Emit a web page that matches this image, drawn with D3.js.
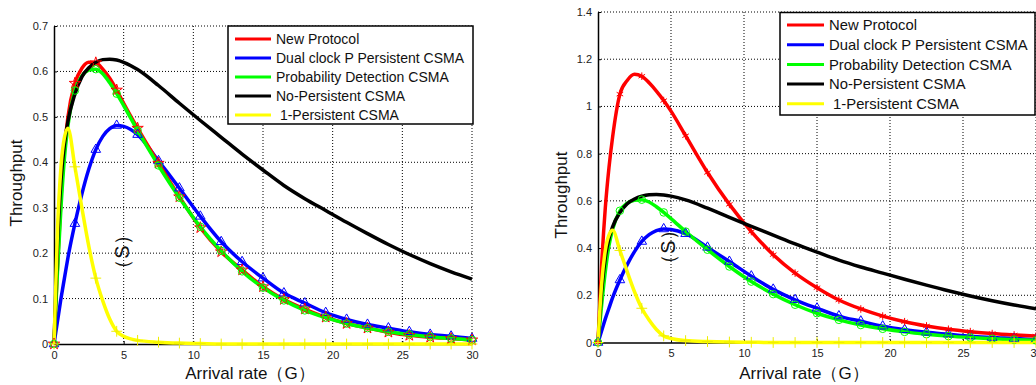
<!DOCTYPE html>
<html>
<head>
<meta charset="utf-8">
<script src="https://cdn.jsdelivr.net/npm/d3@7"></script>
<style>
  body { margin: 0; background: #fff; }
  svg { display: block; font-family: "Liberation Sans", Arial, sans-serif; }
</style>
</head>
<body>
<svg id="chart"></svg>
<script>
var width = 1036;
var height = 385;

// arrival rate samples (G)
var arrivalRate = [0, 0.25, 0.5, 0.75, 1, 1.5, 2, 2.5, 3, 3.5, 4, 4.5, 5, 6, 7.5, 9, 10.5, 12, 13.5, 15, 16.5, 18, 19.5, 21, 22.5, 24, 25.5, 27, 28.5, 30];
var markerRate = [0, 1.5, 3, 4.5, 6, 7.5, 9, 10.5, 12, 13.5, 15, 16.5, 18, 19.5, 21, 22.5, 24, 25.5, 27, 28.5, 30];

var newProtocolLeft = [0, 0.17, 0.32, 0.43, 0.5, 0.574, 0.607, 0.62, 0.619, 0.605, 0.585, 0.559, 0.53, 0.475, 0.398, 0.324, 0.256, 0.203, 0.163, 0.126, 0.098, 0.077, 0.059, 0.045, 0.035, 0.026, 0.019, 0.015, 0.012, 0.009];
var newProtocolRight = [0, 0.33, 0.57, 0.74, 0.87, 1.052, 1.11, 1.136, 1.128, 1.1, 1.065, 1.025, 0.98, 0.876, 0.72, 0.585, 0.47, 0.372, 0.294, 0.232, 0.18, 0.142, 0.112, 0.088, 0.07, 0.056, 0.046, 0.038, 0.032, 0.027];
var dualClock = [0, 0.05, 0.1, 0.145, 0.19, 0.265, 0.33, 0.385, 0.428, 0.457, 0.474, 0.481, 0.479, 0.461, 0.403, 0.343, 0.281, 0.225, 0.181, 0.145, 0.112, 0.09, 0.069, 0.054, 0.043, 0.035, 0.027, 0.021, 0.017, 0.012];
var probDetection = [0, 0.16, 0.3, 0.41, 0.48, 0.558, 0.59, 0.603, 0.605, 0.595, 0.575, 0.551, 0.525, 0.47, 0.393, 0.322, 0.258, 0.205, 0.16, 0.124, 0.096, 0.074, 0.058, 0.045, 0.035, 0.027, 0.021, 0.016, 0.012, 0.009];
var noPersistent = [0, 0.22, 0.36, 0.44, 0.49, 0.55, 0.588, 0.608, 0.62, 0.626, 0.627, 0.625, 0.62, 0.604, 0.569, 0.53, 0.492, 0.455, 0.418, 0.383, 0.349, 0.32, 0.294, 0.268, 0.243, 0.219, 0.197, 0.177, 0.159, 0.143];
var onePersistent = [0, 0.25, 0.39, 0.455, 0.475, 0.39, 0.3, 0.215, 0.145, 0.095, 0.055, 0.028, 0.017, 0.008, 0.004, 0.002, 0.001, 0, 0, 0, 0, 0, 0, 0, 0, 0, 0, 0, 0, 0];

var legendNames = ["New Protocol", "Dual clock P Persistent CSMA", "Probability Detection CSMA", "No-Persistent CSMA", " 1-Persistent CSMA"];
var seriesColors = ["#ff0000", "#0000ff", "#00ff00", "#000000", "#ffff00"];
var xTicks = [0, 5, 10, 15, 20, 25, 30];
var yTicksLeft = [0, 0.1, 0.2, 0.3, 0.4, 0.5, 0.6, 0.7];
var yTicksRight = [0, 0.2, 0.4, 0.6, 0.8, 1, 1.2, 1.4];

var svg = d3.select("#chart")
            .attr("width", width)
            .attr("height", height);

function drawPanel(p) {
  var xScale = d3.scaleLinear().domain([0, 30]).range([p.left, p.right]);
  var yScale = d3.scaleLinear().domain([0, p.yMax]).range([p.bottom, p.top]);
  var g = svg.append("g");

  // dotted grid
  g.selectAll(".gx").data(xTicks.slice(1)).enter().append("line")
    .attr("x1", function(d) { return xScale(d); })
    .attr("x2", function(d) { return xScale(d); })
    .attr("y1", p.top).attr("y2", p.bottom)
    .attr("stroke", "#000").attr("stroke-width", 1).attr("stroke-dasharray", "1,2");
  g.selectAll(".gy").data(p.yTicks.slice(1)).enter().append("line")
    .attr("y1", function(d) { return yScale(d); })
    .attr("y2", function(d) { return yScale(d); })
    .attr("x1", p.left).attr("x2", p.right)
    .attr("stroke", "#000").attr("stroke-width", 1).attr("stroke-dasharray", "1,2");

  var xAxis = g.append("g")
    .attr("transform", "translate(0," + p.bottom + ")")
    .call(d3.axisBottom(xScale).tickValues(xTicks).tickSize(-3).tickPadding(7).tickSizeOuter(0));
  var yAxis = g.append("g")
    .attr("transform", "translate(" + p.left + ",0)")
    .call(d3.axisLeft(yScale).tickValues(p.yTicks).tickSize(-3).tickPadding(6).tickSizeOuter(0)
      .tickFormat(function(d) { return String(+d.toFixed(1)); }));
  [xAxis, yAxis].forEach(function(a) {
    a.selectAll("text").attr("font-size", 11).attr("fill", "#222")
      .attr("font-family", "Liberation Sans, Arial, sans-serif");
    a.select(".domain").attr("stroke-width", 1.5);
  });

  var series = [
    { values: p.newProtocol, color: seriesColors[0], symbol: p.redSymbol },
    { values: dualClock, color: seriesColors[1], symbol: d3.symbolTriangle },
    { values: probDetection, color: seriesColors[2], symbol: d3.symbolCircle },
    { values: noPersistent, color: seriesColors[3], symbol: null },
    { values: onePersistent, color: seriesColors[4], symbol: d3.symbolPlus }
  ];
  var drawOrder = [1, 0, 2, 3, 4];

  var line = d3.line()
    .x(function(d, i) { return xScale(arrivalRate[i]); })
    .y(function(d) { return yScale(d); })
    .curve(d3.curveMonotoneX);

  drawOrder.forEach(function(k) {
    g.append("path")
      .datum(series[k].values)
      .attr("d", line)
      .attr("fill", "none")
      .attr("stroke", series[k].color)
      .attr("stroke-width", 3.5)
      .attr("stroke-linejoin", "round");
  });

  drawOrder.forEach(function(k) {
    var s = series[k];
    if (!s.symbol) return;
    var pts = markerRate.map(function(r) {
      return { x: r, y: s.values[arrivalRate.indexOf(r)] };
    });
    g.selectAll(null).data(pts).enter().append("path")
      .attr("transform", function(d) { return "translate(" + xScale(d.x) + "," + yScale(d.y) + ")"; })
      .attr("d", d3.symbol().type(s.symbol).size(k === 2 ? 45 : 40))
      .attr("fill", "none")
      .attr("stroke", k === 4 ? "#eeee00" : s.color)
      .attr("stroke-width", 1);
  });

  // legend
  var lg = g.append("g");
  lg.append("rect")
    .attr("x", p.legend.x).attr("y", p.legend.y)
    .attr("width", p.legend.w).attr("height", p.legend.h)
    .attr("fill", "#fff").attr("stroke", "#000").attr("stroke-width", 1.5);
  legendNames.forEach(function(name, i) {
    var yy = p.legend.y + p.legend.first + i * p.legend.step;
    lg.append("line")
      .attr("x1", p.legend.x + 7).attr("x2", p.legend.x + 7 + p.legend.sample)
      .attr("y1", yy).attr("y2", yy)
      .attr("stroke", seriesColors[i]).attr("stroke-width", 3);
    lg.append("text")
      .attr("x", p.legend.x + 12 + p.legend.sample).attr("y", yy)
      .attr("dy", "0.35em")
      .attr("font-size", p.legend.font)
      .attr("fill", "#111")
      .style("white-space", "pre")
      .text(name);
  });

  svg.append("text")
    .attr("transform", "translate(" + p.yLabelX + "," + p.yLabelY + ") rotate(-90)")
    .attr("text-anchor", "middle")
    .attr("font-size", 17)
    .attr("fill", "#111")
    .text("Throughput");

  svg.append("text")
    .attr("transform", "translate(" + p.sX + "," + p.sY + ") rotate(-90)")
    .attr("text-anchor", "middle")
    .attr("dy", "0.35em")
    .attr("font-size", 20)
    .attr("fill", "#111")
    .text("（S）");

  svg.append("text")
    .attr("x", (p.left + p.right) / 2 + p.xLabelShift)
    .attr("y", 379)
    .attr("text-anchor", "middle")
    .attr("font-size", 17)
    .attr("fill", "#111")
    .text("Arrival rate（G）");
}

drawPanel({
  left: 54, right: 472, top: 26, bottom: 344, yMax: 0.7, yTicks: yTicksLeft,
  newProtocol: newProtocolLeft, redSymbol: d3.symbolStar,
  legend: { x: 228, y: 26, w: 245, h: 98, first: 13, step: 19, sample: 36, font: 14 },
  yLabelX: 22, yLabelY: 183, sX: 122, sY: 252, xLabelShift: -13
});

drawPanel({
  left: 598, right: 1036, top: 12, bottom: 342.5, yMax: 1.4, yTicks: yTicksRight,
  newProtocol: newProtocolRight, redSymbol: d3.symbolAsterisk,
  legend: { x: 780, y: 12.5, w: 255, h: 102.5, first: 12.5, step: 19.7, sample: 37, font: 14.8 },
  yLabelX: 567, yLabelY: 195, sX: 668, sY: 247, xLabelShift: -13
});
</script>
</body>
</html>
